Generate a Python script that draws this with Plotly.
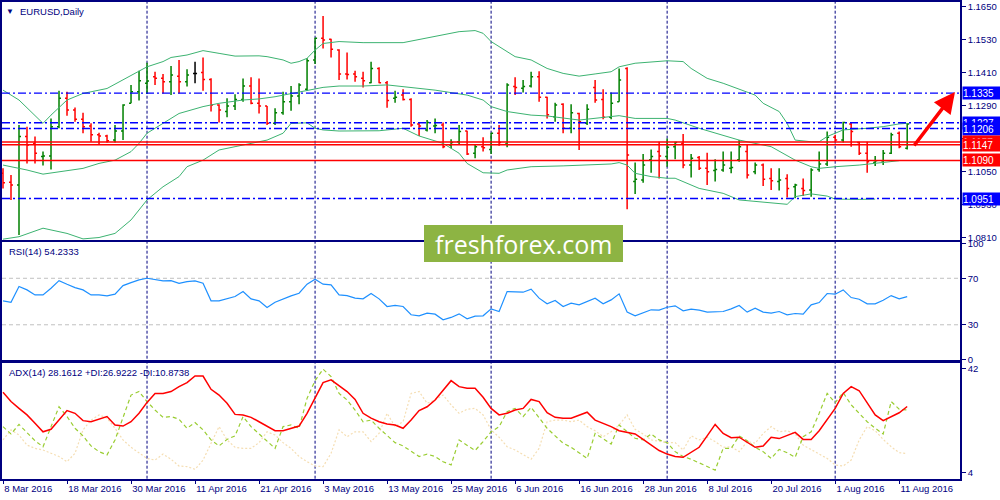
import pandas as pd
import plotly.graph_objects as go

# daily bars, 8 Mar 2016 .. 12 Aug 2016 (weekdays)
dates = pd.bdate_range("2016-03-08", "2016-08-12").strftime("%Y-%m-%d").tolist()

opens = [1.1043, 1.1010, 1.1000, 1.1177, 1.1152, 1.1104, 1.1106, 1.1213, 1.1316, 1.1274,
         1.1240, 1.1215, 1.1183, 1.1179, 1.1164, 1.1197, 1.1298, 1.1340, 1.1371, 1.1395,
         1.1389, 1.1377, 1.1397, 1.1377, 1.1407, 1.1410, 1.1385, 1.1292, 1.1268, 1.1288,
         1.1312, 1.1361, 1.1298, 1.1288, 1.1225, 1.1264, 1.1304, 1.1325, 1.1349, 1.1456,
         1.1535, 1.1531, 1.1492, 1.1405, 1.1405, 1.1389, 1.1373, 1.1425, 1.1373, 1.1316,
         1.1328, 1.1312, 1.1223, 1.1201, 1.1215, 1.1219, 1.1146, 1.1158, 1.1197, 1.1116,
         1.1140, 1.1130, 1.1189, 1.1150, 1.1359, 1.1353, 1.1361, 1.1395, 1.1320, 1.1249,
         1.1295, 1.1207, 1.1261, 1.1225, 1.1356, 1.1312, 1.1247, 1.1304, 1.1425, 1.1013,
         1.1019, 1.1092, 1.1122, 1.1104, 1.1140, 1.1152, 1.1073, 1.1101, 1.1061, 1.1053,
         1.1055, 1.1061, 1.1092, 1.1122, 1.1049, 1.1073, 1.1024, 1.1013, 1.1024, 1.0994,
         1.0988, 1.0982, 1.1057, 1.1077, 1.1174, 1.1164, 1.1223, 1.1155, 1.1116, 1.1082,
         1.1089, 1.1116, 1.1189, 1.1134]
highs = [1.1061, 1.1037, 1.1219, 1.1213, 1.1177, 1.1122, 1.1243, 1.1344, 1.1340, 1.1283,
         1.1264, 1.1225, 1.1191, 1.1183, 1.1219, 1.1295, 1.1365, 1.1417, 1.1446, 1.1413,
         1.1405, 1.1434, 1.1456, 1.1422, 1.1449, 1.1465, 1.1389, 1.1295, 1.1316, 1.1331,
         1.1388, 1.1393, 1.1388, 1.1288, 1.1280, 1.1340, 1.1361, 1.1371, 1.1462, 1.1537,
         1.1616, 1.1533, 1.1495, 1.1483, 1.1417, 1.1413, 1.1449, 1.1429, 1.1379, 1.1344,
         1.1349, 1.1316, 1.1228, 1.1237, 1.1243, 1.1228, 1.1167, 1.1219, 1.1198, 1.1146,
         1.1174, 1.1191, 1.1219, 1.1371, 1.1393, 1.1383, 1.1413, 1.1415, 1.1322, 1.1300,
         1.1298, 1.1295, 1.1264, 1.1295, 1.1383, 1.1349, 1.1337, 1.1425, 1.1429, 1.1082,
         1.1113, 1.1130, 1.1158, 1.1170, 1.1158, 1.1186, 1.1113, 1.1106, 1.1118, 1.1094,
         1.1122, 1.1122, 1.1164, 1.1146, 1.1082, 1.1079, 1.1061, 1.1061, 1.1040, 1.1005,
         1.1024, 1.1061, 1.1122, 1.1195, 1.1183, 1.1231, 1.1228, 1.1158, 1.1158, 1.1106,
         1.1128, 1.1191, 1.1195, 1.1225]
lows = [1.0988, 1.0946, 1.0818, 1.1079, 1.1079, 1.1071, 1.1057, 1.1207, 1.1253, 1.1231,
        1.1189, 1.1158, 1.1146, 1.1155, 1.1155, 1.1164, 1.1298, 1.1308, 1.1332, 1.1365,
        1.1334, 1.1328, 1.1334, 1.1359, 1.1371, 1.1344, 1.1268, 1.1228, 1.1247, 1.1274,
        1.1304, 1.1295, 1.1261, 1.1219, 1.1219, 1.1256, 1.1271, 1.1295, 1.1344, 1.1441,
        1.1498, 1.1465, 1.1383, 1.1385, 1.1377, 1.1356, 1.1371, 1.1371, 1.1282, 1.1300,
        1.1308, 1.1213, 1.1179, 1.1195, 1.1189, 1.1134, 1.1134, 1.1146, 1.1110, 1.1098,
        1.1122, 1.1113, 1.1143, 1.1138, 1.1328, 1.1337, 1.1356, 1.1304, 1.1243, 1.1231,
        1.1189, 1.1189, 1.1128, 1.1219, 1.1300, 1.1240, 1.1240, 1.1304, 1.0912, 1.0968,
        1.1009, 1.1045, 1.1024, 1.1067, 1.1094, 1.1061, 1.1028, 1.1055, 1.1000, 1.1013,
        1.1049, 1.1043, 1.1085, 1.1024, 1.1040, 1.0997, 1.0982, 1.0980, 1.0955, 1.0952,
        1.0960, 1.0958, 1.1049, 1.1070, 1.1158, 1.1155, 1.1140, 1.1110, 1.1045, 1.1070,
        1.1073, 1.1113, 1.1134, 1.1130]
closes = [1.1009, 1.1000, 1.1177, 1.1146, 1.1116, 1.1106, 1.1213, 1.1316, 1.1274, 1.1240,
          1.1213, 1.1183, 1.1179, 1.1162, 1.1197, 1.1292, 1.1340, 1.1380, 1.1379, 1.1389,
          1.1377, 1.1401, 1.1377, 1.1401, 1.1407, 1.1385, 1.1292, 1.1274, 1.1288, 1.1312,
          1.1361, 1.1298, 1.1288, 1.1225, 1.1264, 1.1304, 1.1325, 1.1365, 1.1453, 1.1535,
          1.1529, 1.1495, 1.1405, 1.1403, 1.1395, 1.1380, 1.1425, 1.1373, 1.1308, 1.1320,
          1.1312, 1.1219, 1.1215, 1.1228, 1.1217, 1.1140, 1.1155, 1.1195, 1.1113, 1.1140,
          1.1136, 1.1189, 1.1155, 1.1365, 1.1356, 1.1359, 1.1395, 1.1320, 1.1256, 1.1292,
          1.1207, 1.1264, 1.1231, 1.1276, 1.1310, 1.1247, 1.1298, 1.1383, 1.1110, 1.1021,
          1.1073, 1.1104, 1.1106, 1.1138, 1.1155, 1.1073, 1.1098, 1.1061, 1.1049, 1.1057,
          1.1073, 1.1064, 1.1140, 1.1037, 1.1073, 1.1021, 1.1016, 1.1019, 1.0988, 1.1000,
          1.0980, 1.1055, 1.1077, 1.1174, 1.1164, 1.1228, 1.1195, 1.1116, 1.1085, 1.1089,
          1.1116, 1.1183, 1.1140, 1.1223]

# Bollinger bands (bar index, value)
bb_upper_idx = [0, 2, 5, 6, 8, 10, 13, 15, 17, 18, 20, 21, 23, 25, 27, 29, 32, 33, 35, 36, 37,
                38, 39, 40, 42, 45, 50, 52, 54, 57, 59, 60, 61, 62, 64, 66, 68, 70, 72, 74, 76,
                77, 79, 83, 85, 86, 88, 90, 92, 94, 95, 97, 98, 99, 101, 102, 103, 104, 105,
                108, 110, 112, 113]
bb_upper = [1.1346, 1.1310, 1.1225, 1.1255, 1.1310, 1.1334, 1.1352, 1.1383, 1.1413, 1.1431, 1.1450,
            1.1465, 1.1474, 1.1490, 1.1480, 1.1470, 1.1471, 1.1468, 1.1456, 1.1444, 1.1450,
            1.1462, 1.1492, 1.1516, 1.1523, 1.1519, 1.1519, 1.1531, 1.1541, 1.1559, 1.1563,
            1.1553, 1.1523, 1.1505, 1.1468, 1.1456, 1.1425, 1.1407, 1.1397, 1.1405, 1.1413,
            1.1431, 1.1444, 1.1453, 1.1450, 1.1425, 1.1389, 1.1371, 1.1349, 1.1328, 1.1298,
            1.1268, 1.1225, 1.1164, 1.1158, 1.1158, 1.1177, 1.1189, 1.1201, 1.1207, 1.1213,
            1.1223, 1.1225]
bb_mid_idx = [0, 3, 5, 7, 10, 12, 14, 16, 17, 18, 20, 22, 25, 27, 30, 32, 34, 36, 38, 40,
              42, 45, 48, 51, 54, 58, 60, 61, 63, 66, 68, 72, 74, 76, 77, 79, 83, 84, 87, 92,
              96, 99, 101, 102, 104, 107, 109, 111, 112]
bb_mid = [1.1073, 1.1055, 1.1040, 1.1049, 1.1061, 1.1079, 1.1091, 1.1122, 1.1152, 1.1189,
          1.1225, 1.1261, 1.1286, 1.1298, 1.1310, 1.1314, 1.1322, 1.1334, 1.1346, 1.1356,
          1.1361, 1.1361, 1.1365, 1.1356, 1.1346, 1.1328, 1.1310, 1.1286, 1.1268, 1.1255,
          1.1252, 1.1237, 1.1243, 1.1249, 1.1253, 1.1243, 1.1243, 1.1237, 1.1207, 1.1164,
          1.1140, 1.1091, 1.1067, 1.1061, 1.1067, 1.1073, 1.1079, 1.1085, 1.1089]
bb_lower_idx = [0, 2, 5, 8, 10, 12, 14, 16, 18, 20, 22, 23, 25, 27, 29, 31, 33, 35, 36, 38,
                39, 40, 42, 47, 50, 52, 55, 57, 58, 60, 62, 63, 66, 70, 76, 77, 78, 79, 81, 83,
                84, 87, 90, 92, 94, 98, 99, 101, 103, 104, 107, 109]
bb_lower = [1.0803, 1.0812, 1.0843, 1.0824, 1.0804, 1.0809, 1.0824, 1.0873, 1.0946, 1.0994,
            1.1031, 1.1067, 1.1091, 1.1128, 1.1140, 1.1152, 1.1164, 1.1189, 1.1225, 1.1227,
            1.1207, 1.1201, 1.1197, 1.1198, 1.1207, 1.1179, 1.1152, 1.1116, 1.1079, 1.1045,
            1.1043, 1.1055, 1.1067, 1.1070, 1.1077, 1.1082, 1.1073, 1.1043, 1.1031, 1.1025,
            1.1025, 1.0988, 1.0970, 1.0946, 1.0940, 1.0930, 1.0958, 1.0968, 1.0960, 1.0949,
            1.0948, 1.0949]

rsi = [50.6, 49.4, 62.9, 60.0, 55.7, 55.7, 61.4, 68.0, 64.9, 62.0,
       60.0, 55.7, 55.7, 54.9, 56.3, 63.7, 66.3, 68.6, 70.0, 69.1,
       67.7, 68.0, 65.7, 67.1, 67.7, 65.7, 50.6, 50.6, 52.3, 54.3,
       58.6, 52.3, 50.6, 44.9, 49.4, 52.3, 54.9, 57.1, 64.9, 69.1,
       64.9, 64.3, 55.7, 55.1, 52.9, 52.3, 56.9, 52.3, 45.7, 46.6,
       45.7, 38.6, 37.7, 40.0, 39.1, 34.3, 36.3, 39.4, 35.1, 37.4,
       37.7, 43.7, 41.4, 58.6, 58.0, 58.0, 60.6, 52.9, 48.0, 50.9,
       45.7, 48.6, 47.1, 50.0, 52.9, 48.0, 51.4, 56.6, 40.9, 37.7,
       40.0, 42.9, 42.6, 45.1, 46.3, 42.0, 43.4, 42.6, 40.9, 41.4,
       41.4, 43.7, 46.6, 40.9, 44.3, 40.9, 40.0, 41.4, 38.6, 39.7,
       39.1, 47.1, 49.1, 56.9, 56.3, 60.0, 53.4, 52.0, 48.0, 48.0,
       51.1, 55.1, 52.3, 54.2]

adx = [33.4, 30.0, 27.5, 25.1, 22.0, 18.9, 19.8, 23.2, 26.7, 25.7,
       23.0, 22.6, 23.5, 24.5, 21.4, 21.0, 22.6, 25.7, 29.7, 33.0,
       33.0, 33.7, 35.5, 37.0, 39.4, 39.4, 34.5, 32.4, 29.4, 25.3,
       25.1, 24.2, 22.6, 21.0, 19.3, 19.3, 20.2, 21.0, 25.7, 31.2,
       37.0, 38.0, 35.7, 33.7, 30.8, 25.7, 23.9, 22.6, 21.8, 21.4,
       20.2, 23.2, 26.7, 28.1, 30.6, 34.3, 37.7, 35.5, 34.9, 34.9,
       31.6, 27.5, 25.1, 25.7, 26.9, 27.5, 30.8, 30.0, 25.9, 24.2,
       23.9, 23.9, 25.1, 26.1, 23.2, 22.0, 20.8, 19.3, 18.6, 18.1,
       16.1, 14.0, 12.0, 10.7, 9.8, 9.5, 11.2, 13.2, 17.4, 21.6,
       18.3, 16.7, 16.9, 14.9, 13.2, 13.7, 16.9, 16.4, 17.7, 18.7,
       16.1, 16.1, 19.3, 23.5, 27.5, 33.0, 35.5, 34.0, 29.4, 25.1,
       23.0, 24.5, 25.9, 28.2]
plus_di = [20.8, 18.1, 21.6, 18.6, 15.6, 13.4, 21.0, 28.1, 24.5, 20.2,
           17.4, 13.7, 11.6, 10.4, 15.9, 23.9, 32.4, 33.7, 30.0, 26.9,
           24.2, 24.5, 23.5, 20.2, 22.3, 19.6, 15.9, 13.7, 16.1, 17.4,
           24.5, 20.8, 18.1, 15.3, 12.8, 20.8, 21.4, 20.2, 31.2, 37.7,
           41.9, 39.2, 33.0, 30.6, 26.9, 22.6, 23.2, 20.2, 17.4, 14.9,
           13.7, 11.6, 9.8, 10.7, 9.8, 7.9, 6.7, 15.9, 14.0, 12.0,
           15.3, 18.9, 20.8, 26.3, 27.5, 24.5, 27.9, 23.9, 20.2, 17.4,
           14.7, 13.2, 11.0, 9.1, 18.3, 16.5, 14.4, 21.4, 18.9, 16.5,
           15.9, 18.1, 15.9, 14.9, 11.6, 9.8, 8.8, 7.5, 6.3, 4.8,
           12.8, 12.8, 17.4, 15.6, 13.2, 11.6, 9.1, 12.4, 11.2, 9.5,
           17.1, 18.9, 25.7, 33.0, 29.6, 33.3, 28.8, 25.7, 22.6, 20.2,
           18.1, 30.0, 27.2, 26.9]
minus_di = [15.9, 19.6, 17.7, 14.0, 12.8, 12.2, 11.0, 9.8, 7.9, 11.0,
            19.6, 23.2, 25.1, 23.9, 20.2, 15.9, 13.2, 11.2, 9.1, 8.5,
            10.7, 8.8, 6.3, 6.1, 5.1, 8.5, 14.7, 20.8, 15.9, 13.2,
            12.8, 12.8, 14.9, 18.9, 17.7, 14.9, 12.8, 9.8, 7.9, 6.3,
            6.1, 11.0, 19.6, 17.1, 18.9, 18.9, 15.3, 18.3, 25.7, 20.8,
            22.6, 33.0, 33.7, 29.4, 30.6, 32.4, 28.8, 25.7, 27.2, 27.5,
            25.1, 19.6, 16.9, 13.4, 12.2, 10.4, 8.8, 12.8, 22.6, 23.2,
            23.2, 22.6, 23.2, 20.8, 19.3, 17.1, 18.9, 21.4, 25.1, 19.8,
            18.1, 15.9, 15.3, 14.9, 14.9, 12.2, 17.4, 15.9, 16.9, 15.3,
            13.2, 13.4, 11.6, 15.3, 14.7, 18.3, 20.8, 18.9, 19.3, 18.1,
            14.0, 12.2, 10.7, 9.1, 6.7, 6.3, 8.5, 15.9, 20.8, 19.3,
            16.1, 13.4, 11.2, 10.9]

# horizontal levels drawn on the chart
level_prices = [1.1335, 1.1227, 1.1206, 1.1157, 1.1147, 1.1090, 1.0951]
level_colors = ["#0000ff", "#0000ff", "#0000ff", "#ff0000", "#ff0000", "#ff0000", "#0000ff"]

month_starts = ["2016-04-01", "2016-05-02", "2016-06-01", "2016-07-01", "2016-08-01"]
label_dates = ["2016-03-08", "2016-03-18", "2016-03-30", "2016-04-11", "2016-04-21",
               "2016-05-03", "2016-05-13", "2016-05-25", "2016-06-06", "2016-06-16",
               "2016-06-28", "2016-07-08", "2016-07-20", "2016-08-01", "2016-08-11"]
label_texts = ["8 Mar 2016", "18 Mar 2016", "30 Mar 2016", "11 Apr 2016", "21 Apr 2016",
               "3 May 2016", "13 May 2016", "25 May 2016", "6 Jun 2016", "16 Jun 2016",
               "28 Jun 2016", "8 Jul 2016", "20 Jul 2016", "1 Aug 2016", "11 Aug 2016"]
price_ticks = [1.0810, 1.0930, 1.1050, 1.1170, 1.1290, 1.1410, 1.1530, 1.1650]

NAVY = "#000080"
FONT = "Liberation Sans"
FS = 9.5

df = pd.DataFrame({"date": dates, "o": opens, "h": highs, "l": lows, "c": closes})
doji = df["o"] == df["c"]
bars = df[~doji]
dj = df[doji]

fig = go.Figure()
fig.add_trace(go.Ohlc(x=bars["date"], open=bars["o"], high=bars["h"], low=bars["l"], close=bars["c"],
                      increasing=dict(line=dict(color="#008000", width=1.5)),
                      decreasing=dict(line=dict(color="#ff0000", width=1.5)),
                      tickwidth=0.25, hoverinfo="skip", showlegend=False))
fig.add_trace(go.Ohlc(x=dj["date"], open=dj["o"], high=dj["h"], low=dj["l"], close=dj["c"],
                      increasing=dict(line=dict(color="#000000", width=1.5)),
                      decreasing=dict(line=dict(color="#000000", width=1.5)),
                      tickwidth=0.25, hoverinfo="skip", showlegend=False))

for idx, vals in [(bb_upper_idx, bb_upper), (bb_mid_idx, bb_mid), (bb_lower_idx, bb_lower)]:
    fig.add_trace(go.Scatter(x=[dates[i] for i in idx], y=vals, mode="lines",
                             line=dict(color="#3cb371", width=1), showlegend=False, hoverinfo="skip"))

fig.add_trace(go.Scatter(x=dates, y=rsi, mode="lines", line=dict(color="#1e90ff", width=1.2),
                         xaxis="x2", yaxis="y2", showlegend=False, hoverinfo="skip"))

fig.add_trace(go.Scatter(x=dates, y=minus_di, mode="lines", line=dict(color="#f5deb3", width=1.2, dash="2px,2px"),
                         xaxis="x3", yaxis="y3", showlegend=False, hoverinfo="skip"))
fig.add_trace(go.Scatter(x=dates, y=plus_di, mode="lines", line=dict(color="#9acd32", width=1.2, dash="4px,3px"),
                         xaxis="x3", yaxis="y3", showlegend=False, hoverinfo="skip"))
fig.add_trace(go.Scatter(x=dates, y=adx, mode="lines", line=dict(color="#ff0000", width=1.5),
                         xaxis="x3", yaxis="y3", showlegend=False, hoverinfo="skip"))

xbase = dict(domain=[0.002, 0.96], range=[-0.125, 119.6], type="category",
             categoryorder="array", categoryarray=dates, showgrid=False, zeroline=False,
             showline=True, mirror=True, linecolor=NAVY, linewidth=1.5, automargin=False,
             fixedrange=True)
ybase = dict(side="right", showgrid=False, zeroline=False, showline=True, mirror=True,
             linecolor=NAVY, linewidth=1.5, ticks="outside", ticklen=4, tickcolor=NAVY,
             tickfont=dict(family=FONT, size=FS, color=NAVY), automargin=False)

shapes = []
for d in month_starts:
    shapes.append(dict(type="line", xref="x", yref="paper", x0=d, x1=d, y0=0.0426, y1=0.996,
                       line=dict(color=NAVY, width=1, dash="3px,2px"), layer="below"))
for lv in [70, 30]:
    shapes.append(dict(type="line", xref="x2 domain", yref="y2", x0=0, x1=1, y0=lv, y1=lv,
                       line=dict(color="#c0c0c0", width=1, dash="4px,3px"), layer="below"))
for p, col in zip(level_prices, level_colors):
    shapes.append(dict(type="line", xref="x domain", yref="y", x0=0, x1=1, y0=p, y1=p,
                       line=dict(color=col, width=1.5 if col == "#ff0000" else 1.4,
                                 dash="solid" if col == "#ff0000" else "8px,3px,2px,3px")))
shapes.append(dict(type="rect", xref="paper", yref="paper", x0=0.424, x1=0.623, y0=0.476, y1=0.55,
                   fillcolor="#8db443", line=dict(width=0), layer="above"))

annotations = [
    dict(text="▼", x=0.010, y=0.978, font=dict(family=FONT, size=8, color=NAVY)),
    dict(text="EURUSD,Daily", x=0.018, y=0.978, font=dict(family=FONT, size=FS, color=NAVY)),
    dict(text="RSI(14) 54.2333", x=0.007, y=1 - 251 / 500, font=dict(family=FONT, size=FS, color=NAVY)),
    dict(text="ADX(14) 28.1612 +DI:26.9222 -DI:10.8738", x=0.007, y=1 - 372 / 500,
         font=dict(family=FONT, size=FS, color=NAVY)),
]
for a in annotations:
    a.update(xref="paper", yref="paper", showarrow=False, xanchor="left", yanchor="middle")
annotations[0]["xanchor"] = "center"
annotations.append(dict(text="freshforex.com", xref="paper", yref="paper", x=0.5235, y=0.513,
                        xanchor="center", yanchor="middle", showarrow=False,
                        font=dict(family="Open Sans", size=25, color="white")))

for p, col in zip(level_prices, level_colors):
    annotations.append(dict(text=f"{p:.4f}", xref="paper", yref="y", x=0.9615, y=p, xanchor="left",
                            yanchor="middle", showarrow=False, bgcolor=col, width=37, height=12,
                            align="left", borderpad=0,
                            font=dict(family=FONT, size=FS + 0.5, color="white")))

annotations.append(dict(text="", xref="paper", yref="paper", x=0.955, y=0.816, ax=-42, ay=55,
                        showarrow=True, arrowhead=2, arrowsize=1.2, arrowwidth=3.5,
                        arrowcolor="#ff0000", standoff=0))

fig.update_layout(
    width=1000, height=500, margin=dict(l=0, r=0, t=0, b=0),
    paper_bgcolor="white", plot_bgcolor="white", showlegend=False,
    xaxis=dict(xbase, anchor="y", showticklabels=False, ticks="", rangeslider=dict(visible=False)),
    xaxis2=dict(xbase, anchor="y2", matches="x", showticklabels=False, ticks=""),
    xaxis3=dict(xbase, anchor="y3", matches="x", tickvals=label_dates, ticktext=label_texts,
                ticks="outside", ticklen=4, tickcolor=NAVY, ticklabelposition="outside right",
                tickfont=dict(family=FONT, size=FS, color=NAVY)),
    yaxis=dict(ybase, anchor="x", domain=[0.52, 0.996], range=[1.0800, 1.16671],
               tickvals=price_ticks, ticktext=[f"{t:.4f}" for t in price_ticks]),
    yaxis2=dict(ybase, anchor="x2", domain=[0.28, 0.516], range=[-0.3, 101.2],
                tickvals=[0, 30, 70, 100]),
    yaxis3=dict(ybase, anchor="x3", domain=[0.0426, 0.2746], range=[1.65, 44.3],
                tickvals=[4, 42]),
    shapes=shapes, annotations=annotations,
)

fig.write_html("out.html", config={"displayModeBar": False},
               post_script="document.body.style.margin='0';document.body.style.overflow='hidden';")
